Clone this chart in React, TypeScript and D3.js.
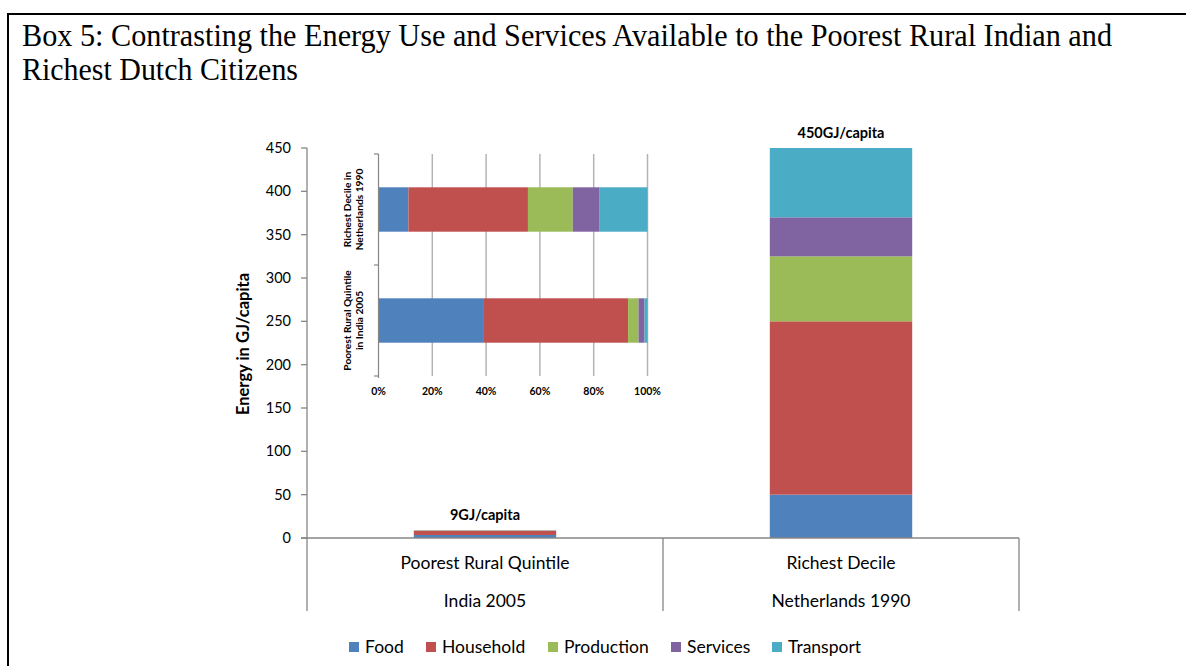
import React from "react";
import * as d3 from "d3";

const categories = ["Poorest Rural Quintile", "Richest Decile"];
const categorySub = ["India 2005", "Netherlands 1990"];
const seriesKeys = ["Food", "Household", "Production", "Services", "Transport"];
const colors = ["#4F81BD", "#C0504D", "#9BBB59", "#8064A2", "#4BACC6"];
// GJ/capita by end use
const food = [3.5, 50];
const household = [4.85, 200];
const production = [0.35, 75];
const services = [0.2, 45];
const transport = [0.1, 80];
const totalLabels = ["9GJ/capita", "450GJ/capita"];
const yTicks = [0, 50, 100, 150, 200, 250, 300, 350, 400, 450];
const insetCategories = ["Richest Decile in|Netherlands 1990", "Poorest Rural Quintile|in India 2005"];
const insetSource = [1, 0]; // index into main categories
const insetTicks = [0, 0.2, 0.4, 0.6, 0.8, 1];

const FONT = "Lato, 'Open Sans', sans-serif";

export default function App() {
  const rows = categories.map((c, i) => ({
    cat: c,
    Food: food[i],
    Household: household[i],
    Production: production[i],
    Services: services[i],
    Transport: transport[i],
  }));
  const stacked = d3.stack<any>().keys(seriesKeys)(rows);

  const x = d3.scaleBand<string>().domain(categories).range([307, 1019]).paddingInner(0.6).paddingOuter(0.3);
  const y = d3.scaleLinear().domain([0, 450]).range([538, 148]);

  const insetRows = insetSource.map((s) => rows[s]);
  const stackedPct = d3.stack<any>().keys(seriesKeys).offset(d3.stackOffsetExpand)(insetRows);
  const xi = d3.scaleLinear().domain([0, 1]).range([378.5, 647.5]);
  const yi = d3.scaleBand<string>().domain(insetCategories).range([154, 376]).paddingInner(0.6).paddingOuter(0.3);

  const step = x.step();
  const boundaries = [307, 307 + step, 307 + 2 * step];

  const legendTextX = [365, 442, 564, 687, 788];

  return (
    <svg width={1186} height={667} style={{ position: "absolute", left: 0, top: 0, display: "block", background: "#fff" }}>
      {/* box border */}
      <line x1={8} y1={14} x2={1186} y2={14} stroke="#000" strokeWidth={2} />
      <line x1={8} y1={13} x2={8} y2={666} stroke="#000" strokeWidth={2} />
      {/* title */}
      <text x={22} y={46} fontFamily="'Liberation Serif', 'Times New Roman', serif" fontSize={31} textLength={1090} lengthAdjust="spacingAndGlyphs" fill="#000">
        Box 5: Contrasting the Energy Use and Services Available to the Poorest Rural Indian and
      </text>
      <text x={22} y={80} fontFamily="'Liberation Serif', 'Times New Roman', serif" fontSize={31} textLength={276} lengthAdjust="spacingAndGlyphs" fill="#000">
        Richest Dutch Citizens
      </text>

      {/* main bars */}
      {stacked.map((layer, li) => (
        <g key={layer.key} fill={colors[li]}>
          {layer.map((d, i) => (
            <rect key={i} x={x(categories[i])} width={x.bandwidth()} y={y(d[1])} height={Math.max(0, y(d[0]) - y(d[1]))} />
          ))}
        </g>
      ))}

      {/* total labels */}
      {categories.map((c, i) => {
        const top = stacked[stacked.length - 1][i][1];
        return (
          <text key={c} x={x(c)! + x.bandwidth() / 2} y={y(top) - 10} textAnchor="middle" fontFamily={FONT} fontWeight="bold" fontSize={14.5} fill="#000">
            {totalLabels[i]}
          </text>
        );
      })}

      {/* y axis */}
      <line x1={307} y1={y(450)} x2={307} y2={y(0)} stroke="#868686" strokeWidth={1.3} />
      {yTicks.map((t) => (
        <g key={t}>
          <line x1={301} x2={307} y1={y(t)} y2={y(t)} stroke="#868686" strokeWidth={1.3} />
          <text x={291} y={y(t)} dy="0.35em" textAnchor="end" fontFamily={FONT} fontSize={14.5} fill="#000">
            {t}
          </text>
        </g>
      ))}
      <text transform={`translate(249,344) rotate(-90)`} textAnchor="middle" fontFamily={FONT} fontWeight="bold" fontSize={16.5} fill="#000">
        Energy in GJ/capita
      </text>

      {/* x axis */}
      <line x1={301} x2={1019} y1={y(0)} y2={y(0)} stroke="#868686" strokeWidth={1.3} />
      {boundaries.map((b, i) => (
        <line key={i} x1={b} x2={b} y1={y(0)} y2={611} stroke="#868686" strokeWidth={1.3} />
      ))}
      {categories.map((c, i) => (
        <g key={c}>
          <text x={x(c)! + x.bandwidth() / 2} y={563} dy="0.35em" textAnchor="middle" fontFamily={FONT} fontSize={17.5} fill="#000">
            {c}
          </text>
          <text x={x(c)! + x.bandwidth() / 2} y={601} dy="0.35em" textAnchor="middle" fontFamily={FONT} fontSize={17.5} fill="#000">
            {categorySub[i]}
          </text>
        </g>
      ))}

      {/* inset chart */}
      {insetTicks.slice(1).map((t) => (
        <line key={t} x1={xi(t)} x2={xi(t)} y1={154} y2={376} stroke="#b3b3b3" strokeWidth={1.5} />
      ))}
      {stackedPct.map((layer, li) => (
        <g key={layer.key} fill={colors[li]}>
          {layer.map((d, i) => (
            <rect key={i} x={xi(d[0])} width={Math.max(0, xi(d[1]) - xi(d[0]))} y={yi(insetCategories[i])} height={yi.bandwidth()} />
          ))}
        </g>
      ))}
      <line x1={xi(0)} x2={xi(0)} y1={154} y2={378} stroke="#868686" strokeWidth={1.2} />
      {[154, 265, 376].map((v) => (
        <line key={v} x1={374} x2={xi(0)} y1={v} y2={v} stroke="#868686" strokeWidth={1.2} />
      ))}
      {insetTicks.map((t) => (
        <text key={t} x={xi(t)} y={391} dy="0.35em" textAnchor="middle" fontFamily={FONT} fontWeight="bold" fontSize={10.5} fill="#000">
          {`${Math.round(t * 100)}%`}
        </text>
      ))}
      {insetCategories.map((c) => {
        const cy = yi(c)! + yi.bandwidth() / 2;
        const [l1, l2] = c.split("|");
        return (
          <g key={c} transform={`translate(0,${cy})`}>
            <text transform={`translate(347,0) rotate(-90)`} dy="0.35em" textAnchor="middle" fontFamily={FONT} fontWeight="bold" fontSize={10.2} fill="#000">
              {l1}
            </text>
            <text transform={`translate(359,0) rotate(-90)`} dy="0.35em" textAnchor="middle" fontFamily={FONT} fontWeight="bold" fontSize={10.2} fill="#000">
              {l2}
            </text>
          </g>
        );
      })}

      {/* legend */}
      {seriesKeys.map((k, i) => (
        <g key={k}>
          <rect x={legendTextX[i] - 16} y={642} width={10} height={10} fill={colors[i]} />
          <text x={legendTextX[i]} y={647} dy="0.35em" fontFamily={FONT} fontSize={17.5} fill="#000">
            {k}
          </text>
        </g>
      ))}
    </svg>
  );
}
